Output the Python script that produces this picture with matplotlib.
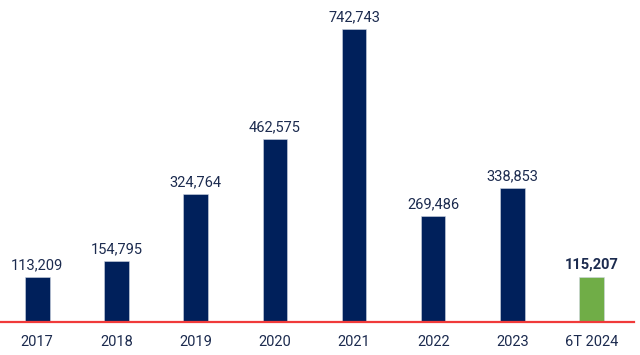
import matplotlib
matplotlib.use("Agg")
import matplotlib.pyplot as plt

plt.rcParams["font.family"] = ["Roboto", "DejaVu Sans"]

# Data
years = ["2017", "2018", "2019", "2020", "2021", "2022", "2023", "6T 2024"]
values = [113209, 154795, 324764, 462575, 742743, 269486, 338853, 115207]

navy = "#00205B"
green = "#70AD47"
text_color = "#1C2B4F"

fig = plt.figure(figsize=(6.4, 3.55), dpi=100)
ax = fig.add_axes([0.0, 33 / 355, 0.99, 322 / 355])

x = list(range(len(years)))
colors = [navy] * (len(years) - 1) + [green]
ax.bar(x, values, width=0.31, color=colors, edgecolor="#cfd6e3", linewidth=0.4, zorder=2)

for i, v in enumerate(values):
    last = i == len(values) - 1
    ax.text(i, v + 12000, f"{v:,}", ha="center", va="bottom",
            fontsize=10.5, color=text_color,
            fontweight="bold" if last else "normal")

ax.set_xlim(-0.47, len(years) - 0.47)
ax.set_ylim(0, 816000)
# baseline sits on the axes edge, so don't clip it
ax.axhline(0, color="#F03A3A", linewidth=1.6, zorder=3, clip_on=False)

ax.set_xticks(x)
ax.set_xticklabels(years, fontsize=10.5, color=text_color)
ax.tick_params(axis="x", length=0, pad=9)
ax.set_yticks([])
for s in ax.spines.values():
    s.set_visible(False)

fig.savefig("out.png", dpi=100)
